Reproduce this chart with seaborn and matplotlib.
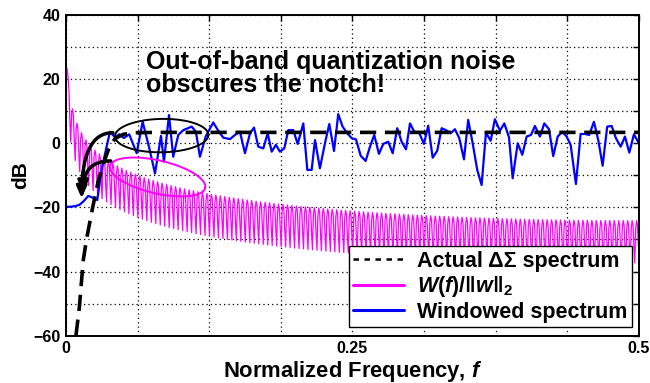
import numpy as np
import pandas as pd
import matplotlib
matplotlib.use("Agg")
import matplotlib.pyplot as plt
import seaborn as sns
from matplotlib.lines import Line2D

sns.set_style("white")
plt.rcParams['font.family'] = ['Liberation Sans', 'DejaVu Sans']
plt.rcParams['font.weight'] = 'bold'
plt.rcParams['text.color'] = 'black'
plt.rcParams['axes.labelcolor'] = 'black'
plt.rcParams['xtick.color'] = 'black'
plt.rcParams['ytick.color'] = 'black'
plt.rcParams['mathtext.fontset'] = 'custom'
plt.rcParams['mathtext.it'] = 'Liberation Sans:italic:bold'
plt.rcParams['mathtext.rm'] = 'Liberation Sans:bold'
plt.rcParams['mathtext.bf'] = 'Liberation Sans:bold'

# ---- data ----
# Actual Delta-Sigma spectrum (dB)
ds_f = [0.0087, 0.0116, 0.0151, 0.0181, 0.0233, 0.028, 0.034, 0.038, 0.043, 0.05, 0.06, 0.08, 0.5]
ds_db = [-60, -51.4, -36.4, -29.6, -20, -12, -5, -1, 1.5, 2.8, 3.3, 3.4, 3.4]

# Windowed spectrum (dB)
win_f = [0, 0.0039, 0.0078, 0.0117, 0.0156, 0.0195, 0.0235, 0.0273, 0.0312, 0.0352,
         0.0384, 0.0428, 0.0465, 0.0506, 0.0552, 0.0617, 0.0669, 0.0724, 0.0777, 0.0829,
         0.0855, 0.0899, 0.0936, 0.0980, 0.1024, 0.1097, 0.1134, 0.1169, 0.1219, 0.1285,
         0.1329, 0.1373, 0.1431, 0.1475, 0.1518, 0.1562, 0.1606, 0.1641, 0.1678, 0.1722,
         0.1760, 0.1795, 0.1832, 0.1867, 0.1905, 0.1940, 0.1983, 0.2022, 0.2071, 0.2106,
         0.2144, 0.2173, 0.2216, 0.2260, 0.2298, 0.2339, 0.2376, 0.2414, 0.2455, 0.2493,
         0.2531, 0.2572, 0.2615, 0.2653, 0.2690, 0.2731, 0.2769, 0.2812, 0.2851, 0.2891,
         0.2929, 0.2967, 0.3002, 0.3039, 0.3080, 0.3124, 0.3161, 0.3200, 0.3240, 0.3278,
         0.3316, 0.3357, 0.3394, 0.3432, 0.3473, 0.3510, 0.3549, 0.3589, 0.3627, 0.3665,
         0.3706, 0.3743, 0.3787, 0.3825, 0.3866, 0.3898, 0.3942, 0.3982, 0.4020, 0.4058,
         0.4092, 0.4136, 0.4174, 0.4215, 0.4252, 0.4291, 0.4331, 0.4369, 0.4404, 0.4450,
         0.4491, 0.4529, 0.4566, 0.4607, 0.4645, 0.4683, 0.4723, 0.4762, 0.4799, 0.4840,
         0.4878, 0.4916, 0.4956, 0.5]
win_db = [-19.8, -19.8, -19.6, -19.2, -18.0, -16.4, -17.0, -17.7, -8.0, -1.5,
          3.6, 1.9, 2.8, 1.65, 2.8, -3.1, 6.7, -1.05, -9.4, 2.3,
          -5.7, 8.8, -4.2, 2.6, 4.1, 5.2, 3.6, -4.2, 2.1, 6.5,
          3.9, 1.75, 1.3, 2.6, 3.6, -3.1, 3.1, 4.9, -1.05, -1.6,
          3.1, -2.6, -0.5, -2.6, -1.6, 4.1, 4.1, -0.2, 6.2, -8.3,
          -8.3, 1.0, -7.8, 0.0, 6.0, -2.4, 9.1, 5.2, 3.1, 1.6,
          1.2, -3.9, -5.5, -1.05, 2.6, -3.3, -0.2, 0.5, -3.1, 4.7,
          0.5, -1.9, 6.2, 3.6, 3.4, -0.2, 5.5, -4.5, -2.3, 4.7,
          4.1, 3.1, 4.4, 1.6, -5.0, 7.3, 0.0, -8.3, -13.0, 3.3,
          0.8, 7.5, 3.9, 6.2, 1.9, -10.9, 0.0, -3.6, 2.1, 2.6,
          5.4, 2.1, 6.2, 4.4, -4.0, 2.1, 3.6, 2.1, -0.5, -12.7,
          2.9, 2.9, 2.6, 6.7, 1.0, -7.0, 5.2, 5.4, 1.6, -1.05,
          2.1, -2.9, 2.8, 0.0]

# Rectangular window (length read from the 24 dB peak: 10*log10(N))
window = np.ones(256)
w_f = np.concatenate([[0.0], (np.arange(640) + 0.35) / (5 * len(window))])
n = np.arange(len(window))
W = np.abs(np.exp(-2j * np.pi * np.outer(w_f, n)) @ window) / np.linalg.norm(window)
w_db = 20 * np.log10(W)

x_labels = {0: '0', 0.25: '0.25', 0.5: '0.5'}

# ---- figure ----
fig = plt.figure(figsize=(6.5, 3.83), dpi=100)
ax = fig.add_axes([0.1015, 0.1235, 0.8815, 0.8373])

sns.lineplot(x=w_f, y=w_db, ax=ax, color='#ff00ff', lw=0.9, estimator=None)
sns.lineplot(x=win_f, y=win_db, ax=ax, color='#0000ff', lw=1.6, estimator=None)
sns.lineplot(x=ds_f, y=ds_db, ax=ax, color='black', lw=2.6, estimator=None)
ax.lines[-1].set_dashes((4.5, 2.4))

ax.set_xlim(0, 0.5)
ax.set_ylim(-60, 40)
xt = np.arange(0, 0.5001, 0.0625)
ax.set_xticks(xt)
ax.set_xticklabels([x_labels.get(round(v, 4), '') for v in xt])
yt = np.arange(-60, 41, 10)
ax.set_yticks(yt)
ax.set_yticklabels([('\u2212%d' % -v if v < 0 else '%d' % v) if v % 20 == 0 else '' for v in yt])
ax.tick_params(direction='in', top=True, right=True, length=4, width=1, labelsize=11.5, pad=4,
               colors='black')
ax.grid(True, linestyle=(0, (1, 2.5)), color='black', lw=0.9)
for s in ax.spines.values():
    s.set_color('black')
    s.set_linewidth(1.4)

ax.set_xlabel('Normalized Frequency, $f$', fontsize=15.8, fontweight='bold', labelpad=2, color='black')
ax.set_ylabel('dB', fontsize=15, fontweight='bold', labelpad=2, color='black')

# annotation text
ax.text(0.0695, 23.2, 'Out-of-band quantization noise', fontsize=18, fontweight='bold',
        va='baseline', color='black')
ax.text(0.0695, 16.1, 'obscures the notch!', fontsize=18, fontweight='bold',
        va='baseline', color='black')

# ellipses drawn in a pixel-like space then mapped to data
def ellipse(cx, cy, a, b, ang):
    t = np.linspace(0, 2 * np.pi, 200)
    sx, sy = 1146.0, 3.207
    ex = a * np.cos(t)
    ey = b * np.sin(t)
    r = np.deg2rad(ang)
    px = ex * np.cos(r) - ey * np.sin(r)
    py = ex * np.sin(r) + ey * np.cos(r)
    return cx + px / sx, cy + py / sy

ex, ey = ellipse(0.0835, 2.4, 46.7, 16.7, 1)
ax.plot(ex, ey, color='black', lw=1.4)
ex, ey = ellipse(0.080, -10.5, 48.8, 16.5, -13)
ax.plot(ex, ey, color='#ff00ff', lw=1.4)

# curved arrows
ax.annotate('', xy=(0.0137, -17.2), xytext=(0.041, 3.3),
            arrowprops=dict(arrowstyle='-|>,head_length=0.7,head_width=0.3', lw=2.5, color='black',
                            connectionstyle='angle3,angleA=180,angleB=90',
                            shrinkA=0, shrinkB=0))
ax.annotate('', xy=(0.0150, -15.5), xytext=(0.039, -5.5),
            arrowprops=dict(arrowstyle='-|>,head_length=0.7,head_width=0.3', lw=2.5, color='black',
                            connectionstyle='angle3,angleA=180,angleB=90',
                            shrinkA=0, shrinkB=0))

handles = [Line2D([], [], color='black', lw=1.8, dashes=(2.2, 2.2)),
           Line2D([], [], color='#ff00ff', lw=2.2),
           Line2D([], [], color='#0000ff', lw=2.2)]
labels = ['Actual \u0394\u03a3 spectrum', r'$W(f)/\|w\|_2$', 'Windowed spectrum']
leg = ax.legend(handles, labels, loc='lower right', bbox_to_anchor=(0.988, 0.027),
                borderaxespad=0, fancybox=False, framealpha=1, edgecolor='black',
                prop={'size': 15.5, 'weight': 'bold'}, handlelength=2.4, labelspacing=0.12,
                borderpad=0.2, handletextpad=0.6, labelcolor='black')
leg.get_frame().set_linewidth(1.0)

fig.savefig('out.png', dpi=100)
